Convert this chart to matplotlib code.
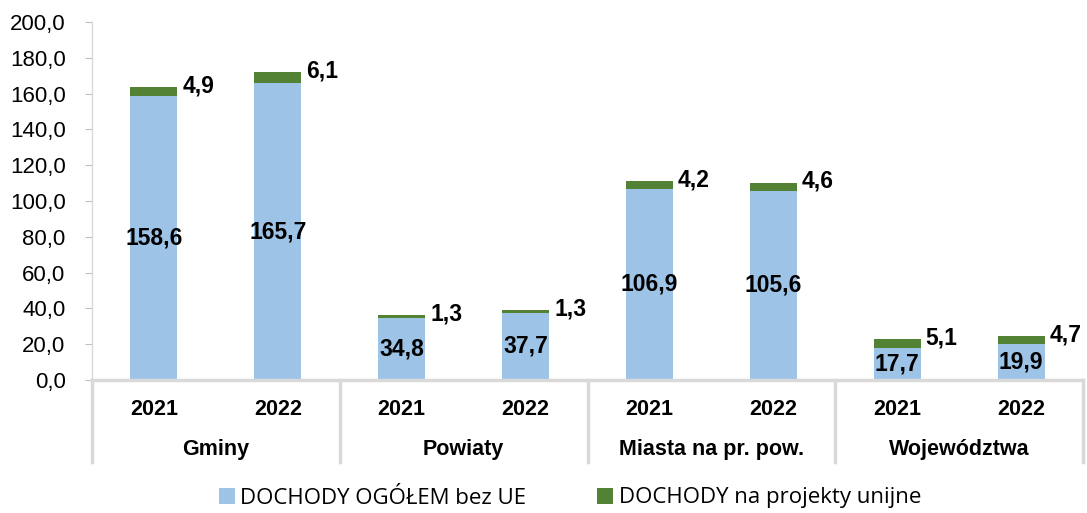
import numpy as np
import matplotlib.pyplot as plt
import matplotlib.transforms as mtransforms

groups = ['Gminy', 'Powiaty', 'Miasta na pr. pow.', 'Województwa']
years = ['2021', '2022']
base = [158.6, 165.7, 34.8, 37.7, 106.9, 105.6, 17.7, 19.9]   # DOCHODY OGÓŁEM bez UE
eu = [4.9, 6.1, 1.3, 1.3, 4.2, 4.6, 5.1, 4.7]                  # DOCHODY na projekty unijne
yticks = np.arange(0, 201, 20)

blue = '#9DC3E6'
green = '#548235'
grid_c = '#D9D9D9'

plt.rcParams['font.family'] = ['Liberation Sans', 'DejaVu Sans']

W, H = 1087, 513
fig = plt.figure(figsize=(W / 100, H / 100), dpi=100)
ax = fig.add_axes([92 / W, (H - 380) / H, (1083 - 92) / W, 358 / H])

x = np.arange(len(base))
bw = 0.38
ax.bar(x, base, bw, color=blue, label='DOCHODY OGÓŁEM bez UE', zorder=2)
ax.bar(x, eu, bw, bottom=base, color=green, label='DOCHODY na projekty unijne', zorder=2)

for xi, b, e in zip(x, base, eu):
    ax.text(xi, b / 2, '{:.1f}'.format(b).replace('.', ','), ha='center', va='center',
            fontsize=16.5, fontweight='bold', color='black')
    ax.text(xi + bw / 2 + 0.04, b + e + 0.8, '{:.1f}'.format(e).replace('.', ','),
            ha='left', va='center', fontsize=16.5, fontweight='bold', color='black')

ax.set_xlim(-0.5, len(base) - 0.5)
ax.set_ylim(0, 200)
ax.set_yticks(yticks)
ax.set_yticklabels(['{:.1f}'.format(v).replace('.', ',') for v in yticks], fontsize=16)
ax.tick_params(axis='y', direction='out', length=5, color='#BFBFBF', pad=14)

ax.set_xticks(x)
ax.set_xticklabels(years * len(groups), fontsize=15.5, fontweight='bold')
ax.tick_params(axis='x', length=0, pad=14)

for s in ['top', 'right']:
    ax.spines[s].set_visible(False)
ax.spines['left'].set_color(grid_c)
ax.spines['left'].set_linewidth(1)
ax.spines['bottom'].set_color(grid_c)
ax.spines['bottom'].set_linewidth(2.5)

trans = mtransforms.blended_transform_factory(ax.transData, ax.transAxes)
y_low = -(462 - 380) / 358
for k in range(len(groups) + 1):
    xs = -0.5 + 2 * k
    ax.plot([xs, xs], [0, y_low], transform=trans, color=grid_c, lw=2.5, clip_on=False)
for k, g in enumerate(groups):
    ax.text(2 * k + 0.5, -(449 - 380) / 358, g, transform=trans, ha='center', va='center',
            fontsize=15.5, fontweight='bold')

leg = fig.legend(loc='center', bbox_to_anchor=(570 / W, (H - 498) / H), ncol=2, frameon=False,
                 handlelength=0.72, handleheight=0.72, columnspacing=3.2, handletextpad=0.25,
                 prop={'family': 'Open Sans', 'size': 16})

fig.savefig('out.png', dpi=100)
